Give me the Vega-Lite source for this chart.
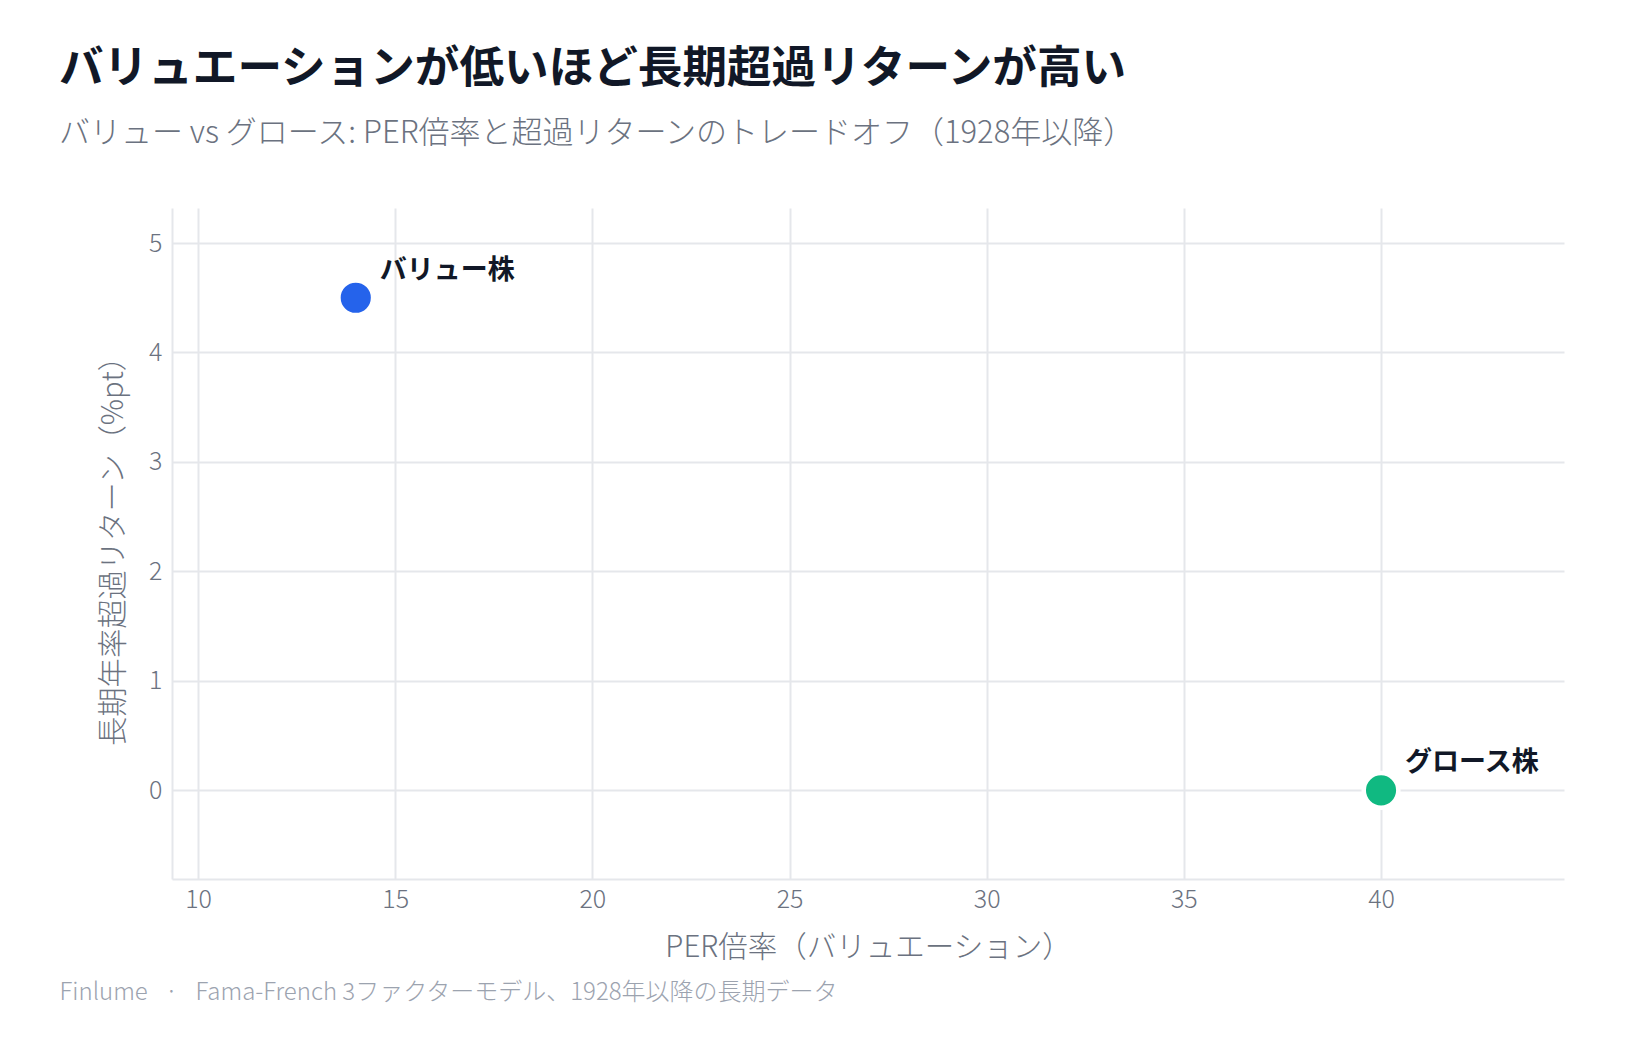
{
  "$schema": "https://vega.github.io/schema/vega-lite/v6.json",
  "width": 1392,
  "height": 671,
  "autosize": {"type": "none"},
  "padding": {"left": 172, "top": 208, "right": 75, "bottom": 161},
  "background": "#ffffff",
  "config": {
    "font": "Noto Sans CJK JP",
    "view": {"stroke": null}
  },
  "title": {
    "text": "バリュエーションが低いほど長期超過リターンが高い",
    "subtitle": "バリュー vs グロース: PER倍率と超過リターンのトレードオフ（1928年以降）",
    "anchor": "start",
    "frame": "group",
    "dx": -113,
    "offset": 58,
    "fontSize": 44.6,
    "fontWeight": "bold",
    "color": "#111827",
    "subtitleFontSize": 31,
    "subtitleFontWeight": 300,
    "subtitleColor": "#6b7280",
    "subtitlePadding": 26,
    "font": "Noto Sans CJK JP",
    "subtitleFont": "Noto Sans CJK JP"
  },
  "data": {
    "values": [
      {"name": "バリュー株", "per": 14, "ret": 4.5},
      {"name": "グロース株", "per": 40, "ret": 0}
    ]
  },
  "layer": [
    {
      "layer": [
        {
          "mark": {"type": "circle", "size": 1200, "opacity": 1, "stroke": "#ffffff", "strokeWidth": 4.5},
          "encoding": {
            "x": {
              "field": "per", "type": "quantitative",
              "scale": {"domain": [9.34, 44.64], "nice": false, "zero": false},
              "axis": {
                "title": "PER倍率（バリュエーション）",
                "values": [10, 15, 20, 25, 30, 35, 40],
                "grid": true, "gridColor": "#e5e7eb", "gridWidth": 2,
                "domain": true, "domainColor": "#e5e7eb", "domainWidth": 2,
                "ticks": false,
                "labelFontSize": 25, "labelColor": "#6b7280", "labelPadding": 8, "labelFontWeight": 300,
                "titleFontSize": 29.5, "titleColor": "#6b7280", "titleFontWeight": 300, "titlePadding": 21
              }
            },
            "y": {
              "field": "ret", "type": "quantitative",
              "scale": {"domain": [-0.81, 5.32], "nice": false, "zero": false},
              "axis": {
                "title": "長期年率超過リターン（%pt）",
                "values": [0, 1, 2, 3, 4, 5],
                "format": "d",
                "grid": true, "gridColor": "#e5e7eb", "gridWidth": 2,
                "domain": true, "domainColor": "#e5e7eb", "domainWidth": 2,
                "ticks": false,
                "labelFontSize": 25, "labelColor": "#6b7280", "labelPadding": 10, "labelFontWeight": 300,
                "titleFontSize": 29.3, "titleColor": "#6b7280", "titleFontWeight": 300, "titlePadding": 20
              }
            },
            "color": {
              "field": "name", "type": "nominal",
              "scale": {"domain": ["バリュー株", "グロース株"], "range": ["#2563eb", "#10b981"]},
              "legend": null
            }
          }
        },
        {
          "mark": {"type": "text", "align": "left", "baseline": "middle", "dx": 24, "dy": -27, "fontSize": 27, "fontWeight": "bold", "color": "#111827"},
          "encoding": {
            "x": {"field": "per", "type": "quantitative"},
            "y": {"field": "ret", "type": "quantitative"},
            "text": {"field": "name"}
          }
        }
      ]
    },
    {
      "mark": {"type": "point", "opacity": 0},
      "encoding": {
        "x": {
          "field": "per", "type": "quantitative",
          "scale": {"domain": [9.34, 44.64], "nice": false, "zero": false},
          "axis": {
            "orient": "bottom",
            "title": "Finlume \u2002·\u2002 Fama-French 3ファクターモデル、1928年以降の長期データ",
            "labels": false, "ticks": false, "domain": false, "grid": false,
            "titleAnchor": "start", "titleAlign": "left", "titleBaseline": "alphabetic",
            "titleX": -113, "titleY": 120,
            "titleFontSize": 24, "titleColor": "#9ca3af", "titleFontWeight": 300
          }
        }
      }
    }
  ],
  "resolve": {"scale": {"x": "independent"}}
}
